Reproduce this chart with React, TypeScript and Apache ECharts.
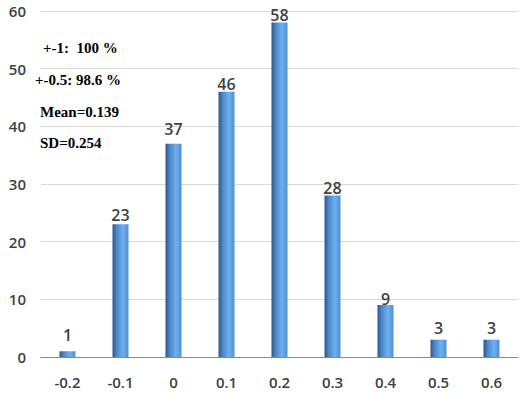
import React, { useEffect, useRef } from "react";
import * as echarts from "echarts";

const categories = ["-0.2", "-0.1", "0", "0.1", "0.2", "0.3", "0.4", "0.5", "0.6"];
const counts = [1, 23, 37, 46, 58, 28, 9, 3, 3];
const notes = ["+-1:  100 %", "+-0.5: 98.6 %", "Mean=0.139", "SD=0.254"];
// label distance above each bar (px), as placed in the original
const labelGap = [8, 1, 7, 0, 0, 0, -2, 4, 4];

export default function App() {
  const ref = useRef<HTMLDivElement>(null);
  useEffect(() => {
    const chart = echarts.init(ref.current!, null, { renderer: "svg" });
    const barColor = new echarts.graphic.LinearGradient(0, 0, 1, 0, [
      { offset: 0, color: "#2b5786" },
      { offset: 0.25, color: "#4a85c4" },
      { offset: 0.65, color: "#6fb0f0" },
      { offset: 1, color: "#4f8fd2" },
    ]);
    const notePos = [
      { x: 43, y: 48 },
      { x: 35, y: 80 },
      { x: 40, y: 112 },
      { x: 40, y: 143 },
    ];
    chart.setOption({
      animation: false,
      grid: { left: 41, right: 2, top: 11, bottom: 36, containLabel: false },
      xAxis: {
        type: "category",
        data: categories,
        axisLine: { lineStyle: { color: "#888888", width: 1 } },
        axisTick: { show: false },
        axisLabel: { color: "#3f3f3f", fontSize: 15, fontWeight: 600, fontFamily: "Open Sans", margin: 17 },
      },
      yAxis: {
        type: "value",
        min: 0,
        max: 60,
        interval: 10,
        axisLine: { show: false },
        axisTick: { show: false },
        splitLine: { lineStyle: { color: "#d9d9d9", width: 1 } },
        axisLabel: { color: "#3f3f3f", fontSize: 15, fontWeight: 600, fontFamily: "Open Sans", margin: 15 },
      },
      series: [
        {
          type: "bar",
          data: counts.map((v, i) => ({ value: v, label: { distance: labelGap[i] } })),
          barWidth: 16,
          itemStyle: { color: barColor },
          label: {
            show: true,
            position: "top",
            color: "#3f3f3f",
            fontSize: 16,
            fontWeight: 600,
            fontFamily: "Open Sans",
          },
        },
      ],
      graphic: notes.map((t, i) => ({
        type: "text",
        x: notePos[i].x,
        y: notePos[i].y,
        style: {
          text: t,
          fill: "#000000",
          font: "bold 15px 'Liberation Serif'",
          verticalAlign: "middle",
        },
      })),
    });
    return () => chart.dispose();
  }, []);
  return <div ref={ref} style={{ width: 520, height: 393, position: "absolute", left: 0, top: 0 }} />;
}
